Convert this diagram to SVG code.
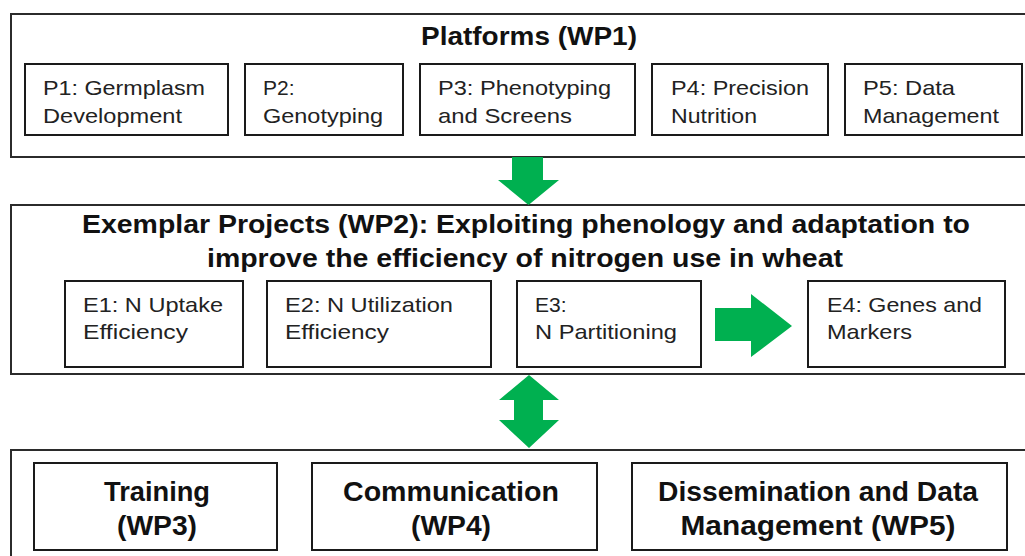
<svg xmlns="http://www.w3.org/2000/svg" width="1025" height="556" viewBox="0 0 1025 556">
<style>
.outer{fill:#fff;stroke:#2b2b2b;stroke-width:2}
.box{fill:#fff;stroke:#1a1a1a;stroke-width:2}
.t{font-family:"Liberation Sans",Arial,sans-serif;fill:#222}
.s{font-size:21px}
.b{font-size:25px;font-weight:bold;fill:#111}
.bb{font-size:27px;font-weight:bold;fill:#111;text-anchor:middle}
.arrow{fill:#00B050}
</style>
<rect width="1025" height="556" fill="#fff"/>
<g id="wp1">
<rect class="outer" x="11" y="14" width="1030" height="143"/>
<text class="t b" x="421" y="45" textLength="216" lengthAdjust="spacingAndGlyphs">Platforms (WP1)</text>
</g>
<g id="p1">
<rect class="box" x="25" y="64" width="203" height="71"/>
<text class="t s" x="43" y="95" textLength="162" lengthAdjust="spacingAndGlyphs">P1: Germplasm</text>
<text class="t s" x="43" y="123" textLength="139" lengthAdjust="spacingAndGlyphs">Development</text>
</g>
<g id="p2">
<rect class="box" x="245" y="64" width="158" height="71"/>
<text class="t s" x="263" y="95">P2:</text>
<text class="t s" x="263" y="123" textLength="120" lengthAdjust="spacingAndGlyphs">Genotyping</text>
</g>
<g id="p3">
<rect class="box" x="420" y="64" width="215" height="71"/>
<text class="t s" x="438" y="95" textLength="173" lengthAdjust="spacingAndGlyphs">P3: Phenotyping</text>
<text class="t s" x="438" y="123" textLength="134" lengthAdjust="spacingAndGlyphs">and Screens</text>
</g>
<g id="p4">
<rect class="box" x="652" y="64" width="176" height="71"/>
<text class="t s" x="671" y="95" textLength="138" lengthAdjust="spacingAndGlyphs">P4: Precision</text>
<text class="t s" x="671" y="123" textLength="86" lengthAdjust="spacingAndGlyphs">Nutrition</text>
</g>
<g id="p5">
<rect class="box" x="845" y="64" width="177" height="71"/>
<text class="t s" x="863" y="95" textLength="92" lengthAdjust="spacingAndGlyphs">P5: Data</text>
<text class="t s" x="863" y="123" textLength="136" lengthAdjust="spacingAndGlyphs">Management</text>
</g>
<g id="wp2">
<rect class="outer" x="11" y="205" width="1030" height="169"/>
<text class="t b" x="82" y="233" textLength="888" lengthAdjust="spacingAndGlyphs">Exemplar Projects (WP2): Exploiting phenology and adaptation to</text>
<text class="t b" x="207" y="267" textLength="636" lengthAdjust="spacingAndGlyphs">improve the efficiency of nitrogen use in wheat</text>
</g>
<g id="e1">
<rect class="box" x="65" y="281" width="178" height="86"/>
<text class="t s" x="83" y="312" textLength="140" lengthAdjust="spacingAndGlyphs">E1: N Uptake</text>
<text class="t s" x="83" y="339" textLength="105" lengthAdjust="spacingAndGlyphs">Efficiency</text>
</g>
<g id="e2">
<rect class="box" x="267" y="281" width="224" height="86"/>
<text class="t s" x="285" y="312" textLength="168" lengthAdjust="spacingAndGlyphs">E2: N Utilization</text>
<text class="t s" x="285" y="339" textLength="104" lengthAdjust="spacingAndGlyphs">Efficiency</text>
</g>
<g id="e3">
<rect class="box" x="517" y="281" width="184" height="86"/>
<text class="t s" x="535" y="312">E3:</text>
<text class="t s" x="535" y="339" textLength="142" lengthAdjust="spacingAndGlyphs">N Partitioning</text>
</g>
<g id="e4">
<rect class="box" x="808" y="281" width="197" height="86"/>
<text class="t s" x="827" y="312" textLength="155" lengthAdjust="spacingAndGlyphs">E4: Genes and</text>
<text class="t s" x="827" y="339" textLength="85" lengthAdjust="spacingAndGlyphs">Markers</text>
</g>
<g id="wp345">
<rect class="outer" x="11" y="450" width="1030" height="120"/>
</g>
<g id="training">
<rect class="box" x="34" y="463" width="243" height="87"/>
<text class="t bb" x="157" y="501" textLength="106" lengthAdjust="spacingAndGlyphs">Training</text>
<text class="t bb" x="157" y="535" textLength="80" lengthAdjust="spacingAndGlyphs">(WP3)</text>
</g>
<g id="communication">
<rect class="box" x="312" y="463" width="285" height="87"/>
<text class="t bb" x="451" y="501" textLength="216" lengthAdjust="spacingAndGlyphs">Communication</text>
<text class="t bb" x="451" y="535" textLength="80" lengthAdjust="spacingAndGlyphs">(WP4)</text>
</g>
<g id="dissemination">
<rect class="box" x="632" y="463" width="375" height="87"/>
<text class="t bb" x="818" y="501" textLength="320" lengthAdjust="spacingAndGlyphs">Dissemination and Data</text>
<text class="t bb" x="818" y="535" textLength="275" lengthAdjust="spacingAndGlyphs">Management (WP5)</text>
</g>
<g id="connectors">
<polygon class="arrow" points="512,157 543,157 543,180 559,180 528.5,205 498,180 512,180"/>
<polygon class="arrow" points="715,308 751,308 751,294 792,326 751,357 751,341 715,341"/>
<polygon class="arrow" points="529,375 559,400 543,400 543,420 559,420 529,448 499,420 514,420 514,400 499,400"/>
</g>
</svg>
